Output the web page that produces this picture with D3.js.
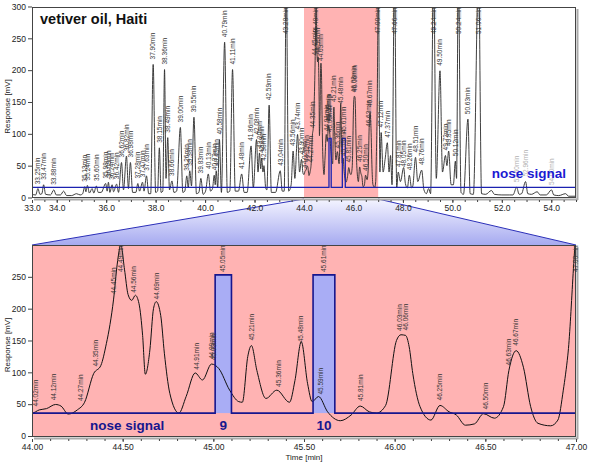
<!DOCTYPE html>
<html><head><meta charset="utf-8">
<script src="https://cdn.jsdelivr.net/npm/d3@7"></script>
<style>
body{margin:0;background:#fff}
svg{display:block;font-family:"Liberation Sans",Arial,sans-serif}
</style>
</head><body>
<svg id="chart" width="589" height="463"></svg>
<script>
// ---------------- DATA ----------------
const chartTitle = "vetiver oil, Haiti";
const traceTime = [
33.00,33.15,33.24,33.32,33.40,33.47,33.55,33.75,33.88,33.98,34.15,34.28,34.40,34.60,34.80,34.95,35.05,35.13,35.18,35.24,35.32,35.43,35.50,35.60,35.68,35.80,35.98,36.04,36.09,36.15,36.24,36.30,36.42,36.50,36.62,36.70,36.82,36.90,36.98,37.07,37.20,37.28,37.35,37.47,37.53,37.63,37.72,37.80,37.90,38.00,38.08,38.15,38.22,38.29,38.36,38.42,38.49,38.56,38.66,38.74,38.85,39.00,39.10,39.18,39.26,39.32,39.38,39.45,39.55,39.65,39.75,39.83,39.92,40.02,40.13,40.22,40.30,40.37,40.41,40.45,40.51,40.58,40.66,40.79,40.90,41.00,41.11,41.22,41.35,41.48,41.58,41.70,41.86,41.95,42.08,42.14,42.20,42.25,42.29,42.34,42.38,42.45,42.50,42.59,42.68,42.85,43.04,43.12,43.20,43.28,43.38,43.48,43.56,43.63,43.74,43.82,43.90,43.96,
44.00,44.04,44.08,44.13,44.16,44.20,44.25,44.29,44.34,44.38,44.41,44.43,44.45,44.47,44.49,44.51,44.53,44.55,44.57,44.59,44.61,44.625,44.65,44.67,44.685,44.71,44.73,44.76,44.81,44.85,44.90,44.94,44.99,45.03,45.09,45.14,45.16,45.19,45.21,45.24,45.29,45.35,45.42,45.45,45.485,45.52,45.545,45.58,45.63,45.70,45.76,45.81,45.86,45.90,45.95,46.01,46.035,46.06,46.08,46.10,46.14,46.20,46.25,46.30,46.34,46.39,46.44,46.49,46.55,46.60,46.63,46.67,46.71,46.75,46.79,46.86,46.90,46.93,46.955,47.01,
47.07,47.12,47.20,47.28,47.37,47.44,47.50,47.56,47.66,47.75,47.81,47.90,48.03,48.10,48.18,48.26,48.35,48.40,48.51,48.60,48.76,48.85,48.95,49.04,49.12,49.24,49.35,49.50,49.60,49.72,49.78,49.85,49.95,50.04,50.12,50.17,50.24,50.35,50.45,50.63,50.72,50.85,51.06,51.18,51.35,51.58,51.70,52.00,52.30,52.45,52.60,52.70,52.80,52.96,53.05,53.20,53.43,53.55,53.80,54.01,54.10,54.30,54.58,54.70,55.00];
const traceValue = [
5,4,14,5,6,20,5,4,12,4,4,10,3,3,6,4,6,17,9,19,7,14,7,18,8,8,22,10,24,8,20,9,21,8,55,12,65,14,55,8,8,22,10,24,10,34,6,6,209,8,10,78,8,10,201,30,94,12,26,8,10,110,8,10,34,15,42,18,126,6,8,30,5,10,37,10,14,35,20,42,15,91,8,244,8,10,201,10,10,37,8,8,81,15,91,40,70,45,62,40,50,15,12,145,8,8,42,10,10,340,10,20,73,30,99,40,60,38,
36,41,43,49.5,47,34.5,41,53,98,111,145,175,215,270,300,262,222,213,221,208,158,97,135,200,211,189,130,67,36,62,99,88,113,106,72,54,53,125,142,103,59,72,53,87,148,82,54,62,38,24,33,47,38,36,48,150,159,158,140,98,46,25,48,38,33,17,19,35,28,46,103,134,108,46,20,16,25,72,127,330,
40,102,40,60,86,40,66,20,360,15,40,25,47,22,15,35,15,18,63,25,43,12,6,14,6,360,30,199,40,66,50,73,20,20,57,30,360,8,5,123,6,5,360,6,5,11,5,4,4,4,16,5,6,25,6,5,9,4,4,12,4,3,6,2,2];

const peakLabelTimes = [33.25,33.47,33.88,35.13,35.24,35.60,35.98,36.09,36.24,36.42,36.62,36.82,36.98,37.28,37.47,37.63,37.90,38.15,38.36,38.49,38.66,39.00,39.26,39.38,39.55,39.83,40.13,40.37,40.45,40.58,40.79,41.11,41.48,41.86,42.08,42.20,42.29,42.38,42.59,43.04,43.28,43.56,43.74,43.90,
44.02,44.12,44.27,44.35,44.45,44.49,44.56,44.69,44.91,44.99,45.00,45.21,45.36,45.48,45.59,45.81,46.03,46.06,46.25,46.50,46.63,46.67,47.00,
47.12,47.37,47.66,47.81,48.05,48.26,48.51,48.76,49.24,49.50,49.72,49.85,50.12,50.24,50.63,51.06];
const faintLabelTimes = [52.60,52.96,54.00];

const noseWindows = [[45.01,45.10],[45.55,45.67]];
const noseNames = ["9","10"];
const noseLabelTimes = [45.05,45.61];
const noseLevelsTop = [16,93];      // baseline, peak (mV scale of top panel)
const noseLevelsBottom = [36,253];  // baseline, peak (mV scale of zoom panel)
const noseText = "nose signal";

const topXTickLabels = [33,34,36,38,40,42,44,46,48,50,52,54];
const topXDomain = [33,55];
const zoomDomain = [44,47];
const bottomXTickLabels = [44.0,44.5,45.0,45.5,46.0,46.5,47.0];
const topYTicks = [0,50,100,150,200,250,300];
const bottomYTicks = [0,50,100,150,200,250];
const yLabel = "Response [mV]";
const xLabel = "Time [min]";

// ---------------- LAYOUT ----------------
const svg = d3.select("#chart");
const L = 32, R = 576;
const topP = {T:7, B:198, y0:197.5};
const botP = {T:245, B:437, y0:436};
const pink = "#ffb3b3";
const navy = "#16168e";

const trace = traceTime.map((t,i)=>({t, v:traceValue[i]}));
function valueAt(t){
  for(let i=1;i<trace.length;i++){
    if(trace[i].t>=t){const a=trace[i-1],b=trace[i];return a.v+(b.v-a.v)*(t-a.t)/(b.t-a.t);}
  }
  return trace[trace.length-1].v;
}

const defs = svg.append("defs");
const grad = defs.append("linearGradient").attr("id","trap").attr("x1",0).attr("y1",0).attr("x2",0).attr("y2",1);
grad.append("stop").attr("offset","0%").attr("stop-color","#f4f4ff");
grad.append("stop").attr("offset","100%").attr("stop-color","#a6aaf0");

const trapG = svg.append("g");

function panel(cfg){
  const g = svg.append("g");
  const x = d3.scaleLinear().domain(cfg.xDomain).range([L,R]);
  const y = d3.scaleLinear().domain([0,300]).range([cfg.y0, cfg.y0-0.6367*300]);
  const clipId = "clip"+cfg.id;
  defs.append("clipPath").attr("id",clipId).append("rect")
    .attr("x",L).attr("y",cfg.T).attr("width",R-L).attr("height",cfg.B-cfg.T);
  if(cfg.fillAll){
    g.append("rect").attr("x",L).attr("y",cfg.T).attr("width",R-L).attr("height",cfg.B-cfg.T).attr("fill",pink);
  } else {
    g.append("rect").attr("x",x(zoomDomain[0])).attr("y",cfg.T)
      .attr("width",x(zoomDomain[1])-x(zoomDomain[0])).attr("height",cfg.B-cfg.T).attr("fill",pink);
  }
  const pg = g.append("g").attr("clip-path",`url(#${clipId})`);
  const data = trace.filter(d=>d.t>=cfg.xDomain[0]-0.1 && d.t<=cfg.xDomain[1]+0.1);
  const [nb,np] = cfg.nose;
  if(cfg.fillAll){
    noseWindows.forEach(w=>{
      pg.append("rect").attr("x",x(w[0])).attr("y",y(np)).attr("width",x(w[1])-x(w[0]))
        .attr("height",y(nb)-y(np)).attr("fill","#a9adf5");
    });
  }
  pg.append("path").datum(data)
    .attr("d",d3.line().x(d=>x(d.t)).y(d=>y(d.v)).curve(d3.curveMonotoneX))
    .attr("fill","none").attr("stroke", cfg.fillAll?"#111":"#2a2a2a").attr("stroke-width",cfg.fillAll?1:0.9);
  const np_ = [[cfg.xDomain[0],nb]];
  noseWindows.forEach(w=>{np_.push([w[0],nb],[w[0],np],[w[1],np],[w[1],nb]);});
  np_.push([cfg.xDomain[1],nb]);
  pg.append("path").datum(np_)
    .attr("d",d3.line().x(d=>x(d[0])).y(d=>y(d[1])))
    .attr("fill","none").attr("stroke",cfg.fillAll?navy:"#1b22b0").attr("stroke-width",cfg.fillAll?1.6:1.3);
  g.append("line").attr("x1",R+1.5).attr("x2",R+1.5).attr("y1",cfg.T+2).attr("y2",cfg.B+2).attr("stroke","#aaa").attr("stroke-width",2);
  g.append("line").attr("x1",L+2).attr("x2",R+2).attr("y1",cfg.B+1.5).attr("y2",cfg.B+1.5).attr("stroke","#aaa").attr("stroke-width",2);
  g.append("rect").attr("x",L+0.5).attr("y",cfg.T+0.5).attr("width",R-L-1).attr("height",cfg.B-cfg.T-1)
    .attr("fill","none").attr("stroke","#444").attr("stroke-width",1);
  const lab = g.append("g").attr("font-size",6.5).attr("fill","#333");
  const inDom = t=>t>=cfg.xDomain[0]-0.005 && t<=cfg.xDomain[1]+0.005;
  function addLabel(t, vAnchor, color){
    const text = t.toFixed(2)+"min";
    let ay = y(Math.min(vAnchor,310)) - 5;
    const tl = 26;
    if(ay - tl < cfg.T+1) ay = cfg.T+1+tl;
    const ax = x(t)+2.3;
    lab.append("text").attr("transform",`translate(${ax},${ay}) rotate(-90)`)
      .attr("fill",color||"#333").text(text);
  }
  peakLabelTimes.filter(inDom).forEach(t=>addLabel(t, valueAt(t)));
  noseLabelTimes.filter(inDom).forEach(t=>addLabel(t, Math.max(np, valueAt(t))));
  faintLabelTimes.filter(inDom).forEach(t=>addLabel(t, valueAt(t), "#b0b0b0"));
  const ya = d3.axisLeft(y).tickValues(cfg.yTicks).tickSize(4).tickPadding(2).tickFormat(d3.format("d"));
  const yg = g.append("g").attr("transform",`translate(${L},0)`).call(ya);
  yg.select(".domain").remove();
  yg.selectAll("text").attr("font-size",8.5).attr("fill","#222").attr("font-family","Liberation Sans, Arial, sans-serif");
  yg.selectAll("line").attr("stroke","#444");
  const xa = d3.axisBottom(x).tickValues(cfg.xTicks).tickSize(3).tickPadding(2).tickFormat(d3.format(cfg.xFmt));
  const xg = g.append("g").attr("transform",`translate(0,${cfg.B+2})`).call(xa);
  xg.select(".domain").remove();
  xg.selectAll("text").attr("font-size",8.5).attr("fill","#222").attr("font-family","Liberation Sans, Arial, sans-serif");
  xg.selectAll("line").attr("stroke","#444");
  const xm = d3.axisBottom(x).tickValues(d3.range(cfg.xDomain[0],cfg.xDomain[1]+1e-6,cfg.minor)).tickSize(2).tickFormat("");
  const xmg = g.append("g").attr("transform",`translate(0,${cfg.B+2})`).call(xm);
  xmg.select(".domain").remove();
  xmg.selectAll("line").attr("stroke","#444");
  g.append("text").attr("transform",`translate(10,${(cfg.T+cfg.B)/2+4}) rotate(-90)`)
    .attr("text-anchor","middle").attr("font-size",8).attr("fill","#222").text(yLabel);
  return {x,y,g};
}

const P1 = panel({id:1, xDomain:topXDomain, T:topP.T, B:topP.B, y0:topP.y0, fillAll:false,
  nose:noseLevelsTop, yTicks:topYTicks, xTicks:topXTickLabels, xFmt:".1f", minor:0.5});
const P2 = panel({id:2, xDomain:zoomDomain, T:botP.T, B:botP.B, y0:botP.y0, fillAll:true,
  nose:noseLevelsBottom, yTicks:bottomYTicks, xTicks:bottomXTickLabels, xFmt:".2f", minor:0.1});

const tx0 = P1.x(zoomDomain[0]), tx1 = P1.x(zoomDomain[1]);
const trapPts = [[tx0,topP.B+1],[tx1,topP.B+1],[R,botP.T],[L,botP.T]];
trapG.append("polygon").attr("points",trapPts.map(p=>p.join(",")).join(" ")).attr("fill","url(#trap)");
trapG.append("line").attr("x1",tx0).attr("y1",topP.B+1).attr("x2",L).attr("y2",botP.T).attr("stroke","#2b2fb8").attr("stroke-width",1);
trapG.append("line").attr("x1",tx1).attr("y1",topP.B+1).attr("x2",R).attr("y2",botP.T).attr("stroke","#2b2fb8").attr("stroke-width",1);

svg.append("text").attr("x",40).attr("y",24).attr("font-size",14.5).attr("font-weight","bold").attr("fill","#111").text(chartTitle);
svg.append("text").attr("x",P1.x(55)-10).attr("y",178).attr("text-anchor","end").attr("font-size",13.5)
  .attr("font-weight","bold").attr("fill","#1a1ad2").text(noseText);
svg.append("text").attr("x",P2.x(44.32)).attr("y",430).attr("font-size",13.5)
  .attr("font-weight","bold").attr("fill",navy).text(noseText);
noseWindows.forEach((w,i)=>{
  svg.append("text").attr("x",P2.x((w[0]+w[1])/2)).attr("y",430).attr("text-anchor","middle")
    .attr("font-size",13.5).attr("font-weight","bold").attr("fill",navy).text(noseNames[i]);
});
svg.append("text").attr("x",P2.x(45.5)).attr("y",460).attr("text-anchor","middle").attr("font-size",8).attr("fill","#222").text(xLabel);
</script>
</body></html>
